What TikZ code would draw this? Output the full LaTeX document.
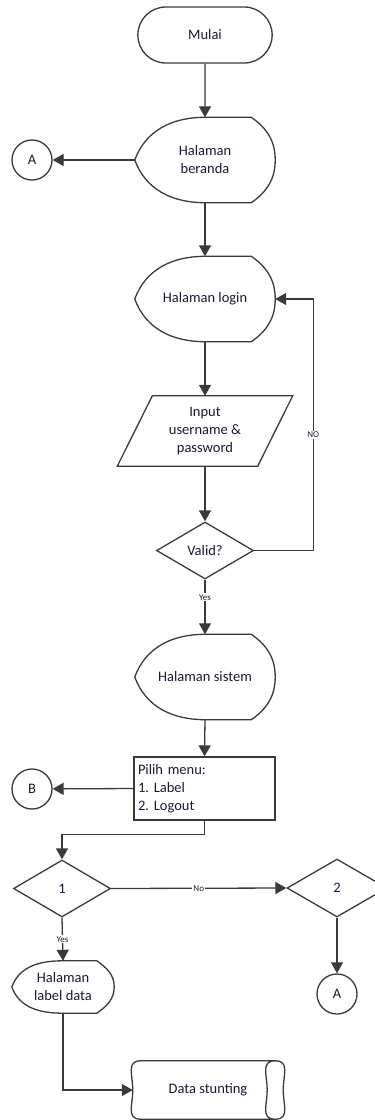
\documentclass[tikz,border=0pt]{standalone}
\usepackage{fontspec}
\setmainfont{Carlito}
\usetikzlibrary{shapes.geometric,shapes.misc,arrows.meta,calc}
\definecolor{lc}{HTML}{3A3A3A}
\definecolor{tc}{HTML}{1A1A33}
\frenchspacing
\newcommand\dispoutline[1]{%
 \draw[ln] let \p1=(#1.north west), \p2=(#1.south east), \n1={\x2-\x1},
   \n2={(\x1+\x2)/2}, \n3={(\y1+\y2)/2}, \n4={\x2-0.17*\n1} in
 (\x1,\n3) to[out=70,in=180] (\n2,\y1) -- (\n4,\y1)
 to[out=-35,in=90] (\x2,\n3) to[out=-90,in=35] (\n4,\y2)
 -- (\n2,\y2) to[out=180,in=-70] cycle;}
\newcommand\paraoutline[1]{%
 \draw[ln] let \p1=(#1.north west), \p2=(#1.south east) in
 ({\x1-17.5pt},\y2) -- ({\x2-17.5pt},\y2) -- ({\x2+17.5pt},\y1) -- ({\x1+17.5pt},\y1) -- cycle;}
\newcommand\storeoutline[1]{%
 \draw[ln] let \p1=(#1.north west), \p2=(#1.south east),
   \n1={\x1+8pt}, \n2={\x2-8pt}, \n3={(\y1+\y2)/2} in
 (\n1,\y1) -- (\n2,\y1)
 to[out=0,in=90,looseness=1.25] (\x2,\n3) to[out=-90,in=0,looseness=1.25] (\n2,\y2)
 to[out=180,in=-90,looseness=1.25] ({\n2-8pt},\n3) to[out=90,in=180,looseness=1.25] (\n2,\y1)
 (\n2,\y2) -- (\n1,\y2)
 to[out=180,in=-90,looseness=1.25] (\x1,\n3) to[out=90,in=180,looseness=1.25] (\n1,\y1);}
\begin{document}
\begin{tikzpicture}[x=1pt,y=-1pt,
  ln/.style={draw=lc, line width=1.3pt},
  arr/.style={ln, -{Triangle[length=11pt,width=12pt]}},
  every node/.style={font=\fontsize{14.5}{18}\selectfont, text=tc},
  term/.style={rounded rectangle, ln, fill=white, minimum width=141pt, minimum height=56pt},
  disp/.style={rectangle, minimum width=140pt, minimum height=85pt, align=center, inner sep=0pt},
  io/.style={rectangle, minimum width=140pt, minimum height=70pt, align=center, inner sep=0pt},
  dec/.style={diamond, ln, aspect=1.7, inner sep=0pt, minimum width=97pt, minimum height=57pt},
  conn/.style={circle, ln, minimum size=40pt, inner sep=0pt},
  proc/.style={rectangle, ln, minimum width=141pt, minimum height=63pt, text width=133pt, inner sep=4pt, align=left},
  store/.style={rectangle, minimum width=150pt, minimum height=58pt, inner sep=0pt},
  lab/.style={fill=white, font=\fontsize{9}{10}\selectfont, inner sep=1pt, text=tc}
]
\path[use as bounding box, clip] (0,0) rectangle (375,1120);

\node[term] (mulai) at (205,35) {Mulai};
\node[disp] (beranda) at (205,160) {Halaman\\beranda};
\node[conn] (a1) at (32,160) {A};
\node[disp] (login) at (205,299) {Halaman login};
\node[io] (input) at (205,431) {Input\\username \&\\password};
\node[dec] (valid) at (205,550.5) {Valid?};
\node[disp] (sistem) at (205,677) {Halaman sistem};
\node[proc] (pilih) at (204.5,788.5) {Pilih menu:\\1. Label\\2. Logout};
\node[conn] (b) at (32,789) {B};
\node[dec] (d1) at (62,888.5) {1};
\node[dec, minimum width=100pt, minimum height=58pt] (d2) at (337,888) {2};
\node[conn] (a2) at (337,994) {A};
\node[disp, minimum width=102pt, minimum height=52pt] (label) at (63,987) {Halaman\\label data};
\node[store] (data) at (208,1090) {Data stunting};

\dispoutline{beranda}
\dispoutline{login}
\dispoutline{sistem}
\dispoutline{label}
\paraoutline{input}
\storeoutline{data}

\draw[arr] (mulai) -- (beranda);
\draw[arr] (beranda.west) -- (a1);
\draw[arr] (beranda.south) -- (login.north);
\draw[arr] (login.south) -- (input.north);
\draw[arr] (input.south) -- (valid.north);
\draw[arr] (valid.east) -- ++(59,0) |- node[lab, pos=0.23] {NO} (login.east);
\draw[arr] (valid.south) -- node[lab, pos=0.32] {Yes} (sistem.north);
\draw[arr] (sistem.south) -- (pilih.north);
\draw[arr] (pilih.west) -- (b);
\draw[arr] (pilih.south) -- ++(0,14) -| (d1.north);
\draw[arr] (d1.east) -- node[lab] {No} (d2.west);
\draw[arr] (d2.south) -- (a2);
\draw[arr] (d1.south) -- node[lab] {Yes} (label.north);
\draw[arr] (label.south) |- (data.west);
\end{tikzpicture}
\end{document}
